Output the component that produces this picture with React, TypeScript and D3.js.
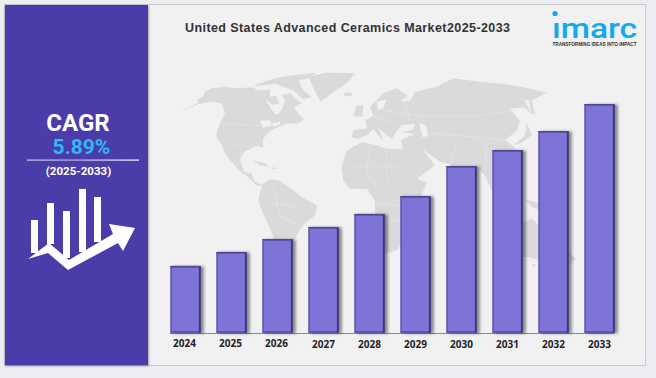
import React from "react";
import * as d3 from "d3";

const years = ["2024", "2025", "2026", "2027", "2028", "2029", "2030", "2031", "2032", "2033"];
// Relative market size (2033 = 100)
const marketIndex = [29.3, 35.4, 41, 46.3, 52, 59.8, 72.9, 79.9, 88.2, 100];

const titleText = "United States Advanced Ceramics Market2025-2033";
const cagrLabel = "CAGR";
const cagrValue = "5.89%";
const cagrPeriod = "(2025-2033)";
const logoTagline = "TRANSFORMING IDEAS INTO IMPACT";

type Pt = [number, number];
// Decorative backdrop outlines, traced in a map space three times the pixel size
const landShapes: Pt[][] = [
  // North America
  [[30,157],[85,128],[80,118],[100,110],[105,95],[125,85],[165,80],[200,85],[250,82],[262,92],[300,88],[300,105],[290,125],[305,150],[320,165],[335,150],[345,120],[335,105],[360,100],[375,115],[395,130],[372,140],[385,160],[402,178],[385,190],[345,192],[318,205],[298,215],[278,238],[280,264],[262,258],[240,268],[222,275],[210,298],[222,335],[245,340],[252,362],[278,376],[262,378],[235,352],[208,332],[180,300],[165,280],[152,250],[140,235],[140,215],[150,190],[165,160],[155,130],[120,125],[85,132]],
  // Arctic islands
  [[250,78],[290,62],[330,52],[400,42],[440,38],[415,55],[385,62],[400,90],[425,112],[400,118],[372,92],[350,85],[320,72],[285,75]],
  [[290,110],[318,108],[328,130],[310,135],[295,125]],
  // Greenland
  [[415,50],[470,38],[555,40],[530,70],[495,92],[452,125],[436,95]],
  // Iceland
  [[520,100],[545,97],[546,107],[525,109]],
  // Cuba and Caribbean
  [[250,302],[285,310],[300,322],[270,316]],[[303,322],[330,325],[305,328]],
  // South America
  [[275,375],[298,358],[330,362],[365,388],[400,415],[440,435],[436,465],[405,490],[390,510],[372,540],[365,592],[355,640],[368,672],[350,672],[335,622],[320,560],[300,505],[272,445],[265,420]],
  // Africa
  [[515,320],[530,272],[575,246],[620,256],[650,266],[700,268],[720,312],[748,360],[772,365],[752,410],[732,440],[736,482],[702,530],[682,570],[642,582],[625,532],[615,472],[615,422],[590,386],[540,386],[520,362]],
  // Madagascar
  [[770,470],[780,500],[762,540],[752,520]],
  // Eurasia
  [[545,232],[550,210],[590,205],[586,180],[610,168],[600,140],[640,100],[680,85],[712,108],[690,125],[720,122],[735,95],[800,80],[850,55],[930,65],[1000,72],[1060,82],[1130,98],[1090,120],[1062,120],[1088,165],[1062,142],[1020,146],[1050,182],[1040,212],[1006,240],[1040,268],[1000,272],[988,300],[1000,340],[975,352],[985,420],[962,385],[945,348],[920,320],[892,330],[866,382],[840,312],[812,306],[790,290],[758,268],[795,316],[748,352],[735,345],[700,272],[692,240],[735,222],[680,215],[665,236],[625,205],[642,245],[610,208],[590,226],[562,236]],
  // Britain and Ireland
  [[558,138],[580,135],[578,170],[552,168]],
  // Japan, Sakhalin
  [[1070,190],[1086,226],[1052,250],[1030,256],[1065,226]],[[1075,115],[1085,120],[1095,165],[1085,160]],
  // Indonesia and New Guinea
  [[965,420],[1000,462],[985,462]],[[1005,425],[1035,420],[1030,450],[1010,455]],[[1045,430],[1060,435],[1050,455]],[[1065,418],[1125,435],[1120,455],[1085,440]],[[995,470],[1055,478],[1000,480]],[[1010,360],[1030,380],[1020,405]],
  // Australia and New Zealand
  [[1000,540],[1050,492],[1085,475],[1110,500],[1128,560],[1105,600],[1075,592],[1040,590],[1005,602]],[[1085,612],[1100,612],[1092,622]],[[1195,580],[1218,595],[1205,612]],
];
const waterShapes: Pt[][] = [
  [[680,215],[695,195],[735,192],[728,210],[700,216]],
  [[748,190],[768,195],[775,228],[758,232]],
  [[270,182],[300,180],[305,195],[280,205]],
  [[306,190],[330,185],[330,193],[310,200]],
  [[620,125],[650,118],[640,145],[625,150]],
];
const borderLines: Pt[][] = [
  [[160,78],[200,85]],[[155,130],[165,160]],[[150,190],[300,200]],[[170,250],[270,268]],
  [[600,260],[590,340],[620,385]],[[650,266],[650,360],[700,420]],[[530,320],[700,320]],[[615,430],[735,440]],
  [[640,480],[730,485]],[[310,380],[330,470],[400,500]],[[300,430],[380,440]],
  [[640,150],[760,170],[900,170],[1040,150]],[[780,220],[900,230],[1010,240]],[[800,180],[860,250],[840,310]],[[700,110],[720,190]],[[610,170],[680,190]],[[950,240],[945,340]],
];
const iconBars: [number, number, number, number][] = [
  [31, 220, 7, 33], [47, 203, 7, 41], [63, 211, 7, 47], [79, 189, 7, 63], [94, 197, 7, 45],
];
const iconArrow: Pt[] = [[28,259],[49,243],[69,260],[113,234],[109,224],[135,228],[123,251],[118,243],[68,270],[48,253]];

const BASE = 333;
const BAR_W = 30.5;

export default function App() {
  const x = d3.scalePoint<string>().domain(years).range([185.5, 599.5]);
  const y = d3.scaleLinear().domain([0, 100]).range([BASE, 104]);
  const line = d3.line<Pt>().x(d => 170 + d[0] / 3).y(d => 60 + d[1] / 3);
  const poly = (p: Pt[]) => line(p) + "Z";

  return (
    <svg width={656} height={378} viewBox="0 0 656 378"
      style={{ position: "fixed", left: 0, top: 0, display: "block" }}>
      <defs>
        <filter id="barShadow" x="-20%" y="-5%" width="150%" height="112%">
          <feDropShadow dx="3" dy="0.5" stdDeviation="1.8" floodColor="#000" floodOpacity="0.45" />
        </filter>
        <filter id="panelShadow" x="-5%" y="-5%" width="110%" height="110%">
          <feDropShadow dx="0.5" dy="1" stdDeviation="1" floodColor="#000" floodOpacity="0.45" />
        </filter>
        <linearGradient id="ruleGrad" x1="0" x2="1" y1="0" y2="0">
          <stop offset="0" stopColor="#cfcbe8" />
          <stop offset="0.4" stopColor="#b9b3e0" />
          <stop offset="1" stopColor="#ffffff" />
        </linearGradient>
      </defs>

      <rect width={656} height={378} fill="#ecedf2" />
      <rect x={4.5} y={4.5} width={641} height={361} fill="#f1f1f1" stroke="#c9c9cc" strokeWidth={1} />

      <g fill="#dadada">
        {landShapes.map((p, i) => <path key={i} d={poly(p)} />)}
      </g>
      <g fill="#f1f1f1">
        {waterShapes.map((p, i) => <path key={i} d={poly(p)} />)}
      </g>
      <g fill="none" stroke="#eaeaea" strokeWidth={0.5}>
        {borderLines.map((p, i) => <path key={i} d={line(p) ?? ""} />)}
      </g>

      <rect x={5} y={5} width={143} height={360} fill="#4b3ea9" filter="url(#panelShadow)" />
      <text x={78} y={131} textAnchor="middle" fontFamily="Roboto" fontWeight={700} fontSize={24} fill="#fff">{cagrLabel}</text>
      <text x={81.5} y={154} textAnchor="middle" fontFamily="Roboto" fontWeight={700} fontSize={21} fill="#30b9f6">{cagrValue}</text>
      <rect x={27} y={159.5} width={112} height={1.2} fill="url(#ruleGrad)" />
      <text x={78.5} y={175} textAnchor="middle" fontFamily="Roboto" fontWeight={700} fontSize={11.5} fill="#fff">{cagrPeriod}</text>
      <g fill="#fff">
        {iconBars.map((b, i) => <rect key={i} x={b[0]} y={b[1]} width={b[2]} height={b[3]} />)}
        <polygon points={iconArrow.map(p => p.join(",")).join(" ")} />
      </g>

      <text x={347.5} y={32} textAnchor="middle" fontFamily="Liberation Sans" fontWeight={700} fontSize={12.5} fill="#333"
        textLength={325} lengthAdjust="spacing">{titleText}</text>

      <circle cx={555} cy={13.5} r={2.6} fill="#12a8f4" />
      <text x={552} y={38} fontFamily="Roboto" fontWeight={500} fontSize={27} fill="#12a8f4"
        textLength={85} lengthAdjust="spacingAndGlyphs">ımarc</text>
      <text x={552.5} y={46} fontFamily="Liberation Sans" fontWeight={700} fontSize={4.8} fill="#333"
        textLength={84} lengthAdjust="spacingAndGlyphs">{logoTagline}</text>

      <line x1={170} x2={614} y1={333.5} y2={333.5} stroke="#8a8a8a" strokeWidth={1} />

      {years.map((yr, i) => {
        const cx = x(yr) as number;
        const left = cx - BAR_W / 2;
        const top = y(marketIndex[i]);
        const h = BASE - top;
        return (
          <g key={yr}>
            <rect x={left} y={top} width={BAR_W} height={h} fill="#5e55ad" filter="url(#barShadow)" />
            <rect x={left + BAR_W - 2} y={top + 1} width={2} height={h - 1} fill="#3f3a70" />
            <rect x={left} y={top} width={BAR_W} height={1} fill="#4f4890" />
            <rect x={left + 1.5} y={top + 2} width={BAR_W - 3.5} height={h - 4} fill="#7e74d8" />
            <text x={cx - (i < 3 ? 1 : 0)} y={i < 3 ? 347 : 348} textAnchor="middle" fontFamily="Open Sans" fontWeight={700} fontSize={10} fill="#222">{yr}</text>
          </g>
        );
      })}
    </svg>
  );
}
